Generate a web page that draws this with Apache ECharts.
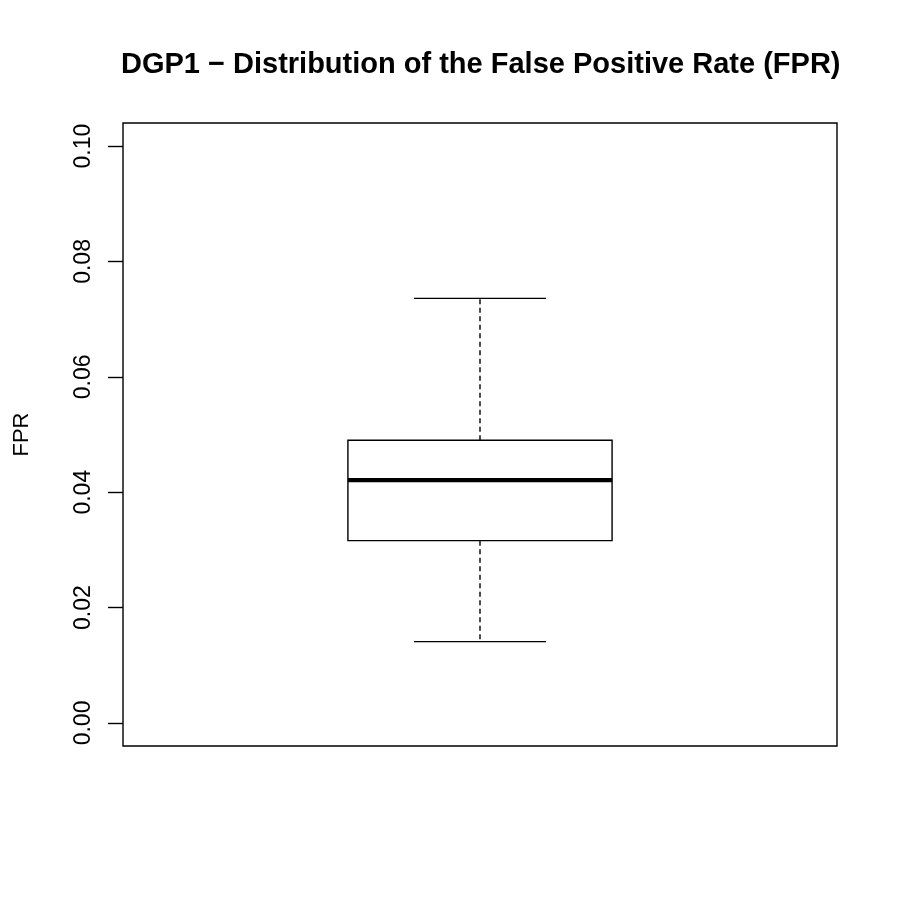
<html style="height: 100%">
<head>
	<meta charset="utf-8">
	<script type="text/javascript" src="https://cdn.jsdelivr.net/npm/echarts@6/dist/echarts.min.js"></script>
</head>

<body style="height: 100%; margin: 0; background: #fff">
	<div id="container" style="height:900px;width:900px"></div>
</body>

<script type="text/javascript">
	var dom = document.getElementById("container");
	var myChart = echarts.init(dom);

	// data
	let categories = ['DGP1'];
	let lowerWhisker = [0.0141];
	let q1 = [0.0316];
	let median = [0.0421];
	let q3 = [0.0490];
	let upperWhisker = [0.0736];
	let yTicks = [0, 0.02, 0.04, 0.06, 0.08, 0.10];

	let boxData = categories.map((c, i) => [i, lowerWhisker[i], q1[i], median[i], q3[i], upperWhisker[i]]);

	function renderBox(params, api) {
		let x = api.value(0);
		let pLo = api.coord([x, api.value(1)]);
		let pQ1 = api.coord([x, api.value(2)]);
		let pMed = api.coord([x, api.value(3)]);
		let pQ3 = api.coord([x, api.value(4)]);
		let pHi = api.coord([x, api.value(5)]);
		let band = api.size([1, 0])[0];
		let hb = band * 0.185; // half box width
		let hc = hb / 2;        // half cap width
		let cx = pMed[0];
		let solid = { stroke: '#000', lineWidth: 1.4, fill: null };
		let dashed = { stroke: '#000', lineWidth: 1.4, lineDash: [5, 3.5], fill: null };
		return {
			type: 'group',
			children: [
				{ type: 'line', shape: { x1: cx, y1: pQ3[1], x2: cx, y2: pHi[1] }, style: dashed },
				{ type: 'line', shape: { x1: cx, y1: pQ1[1], x2: cx, y2: pLo[1] }, style: dashed },
				{ type: 'line', shape: { x1: cx - hc, y1: pHi[1], x2: cx + hc, y2: pHi[1] }, style: solid },
				{ type: 'line', shape: { x1: cx - hc, y1: pLo[1], x2: cx + hc, y2: pLo[1] }, style: solid },
				{ type: 'rect', shape: { x: cx - hb, y: pQ3[1], width: hb * 2, height: pQ1[1] - pQ3[1] }, style: { stroke: '#000', lineWidth: 1.4, fill: '#fff' } },
				{ type: 'line', shape: { x1: cx - hb, y1: pMed[1], x2: cx + hb, y2: pMed[1] }, style: { stroke: '#000', lineWidth: 4.2 } }
			]
		};
	}

	var option = {
		backgroundColor: '#fff',
		animation: false,
		title: {
			text: 'DGP1 \u2212 Distribution of the False Positive Rate (FPR)',
			left: 116,
			top: 45,
			textStyle: { fontFamily: 'Liberation Sans', fontWeight: 'bold', fontSize: 29, color: '#000' }
		},
		grid: {
			left: 123, right: 63, top: 123, bottom: 154,
			outerBoundsMode: 'none',
			containLabel: false,
			show: true, borderColor: '#000', borderWidth: 1.4
		},
		xAxis: {
			type: 'category',
			data: categories,
			axisLine: { show: false },
			axisTick: { show: false },
			axisLabel: { show: false },
			splitLine: { show: false }
		},
		yAxis: {
			type: 'value',
			min: -0.004,
			max: 0.104,
			name: 'FPR',
			nameLocation: 'middle',
			nameRotate: 90,
			nameGap: 90,
			nameTextStyle: { fontFamily: 'Liberation Sans', fontSize: 22, color: '#000' },
			axisLine: { show: false },
			axisTick: { show: true, customValues: yTicks, length: 15, lineStyle: { color: '#000', width: 1.4 } },
			axisLabel: {
				customValues: yTicks,
				rotate: 90,
				margin: 28,
				fontFamily: 'Liberation Sans',
				fontSize: 23,
				color: '#000',
				formatter: v => v.toFixed(2)
			},
			splitLine: { show: false }
		},
		series: [{
			type: 'custom',
			renderItem: renderBox,
			encode: { x: 0, y: [1, 2, 3, 4, 5] },
			data: boxData
		}]
	};

	myChart.setOption(option);
</script>

</html>
